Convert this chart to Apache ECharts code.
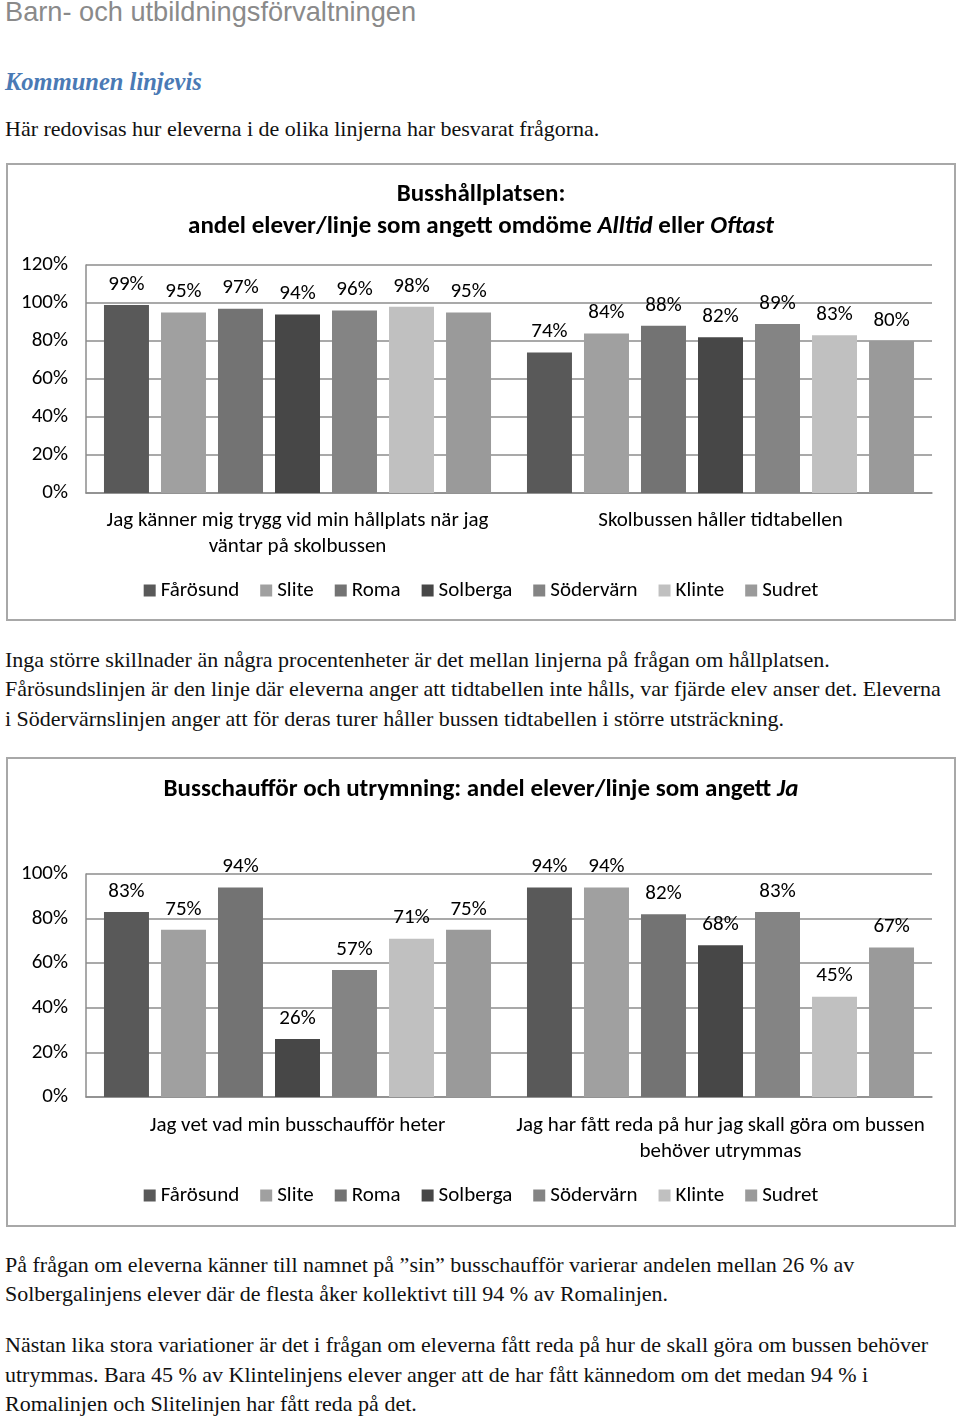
<!DOCTYPE html>
<html>
<head>
<meta charset="utf-8">
<script src="https://cdn.jsdelivr.net/npm/echarts@6/dist/echarts.min.js"></script>
<style>
  html, body { margin: 0; padding: 0; background: #fff; }
  body { width: 960px; height: 1421px; position: relative; overflow: hidden; }
  .t { position: absolute; left: 5px; white-space: nowrap; line-height: 30px; }
  .serif { font-family: 'Liberation Serif', 'DejaVu Serif', serif; font-size: 22px; color: #111; }
  .box { position: absolute; left: 6px; width: 950px; box-sizing: border-box; border: 2px solid #a8a8a8; background: #fff; }
  .box > div { width: 100%; height: 100%; }
</style>
</head>
<body>
<div class="t" style="top:-3px;font-family:'Liberation Sans',Arial,sans-serif;font-size:27.2px;color:#8a8a8a;">Barn- och utbildningsförvaltningen</div>
<div class="t" style="top:67px;font-family:'Liberation Serif',serif;font-size:24.5px;font-weight:bold;font-style:italic;color:#4a7ab5;">Kommunen linjevis</div>
<div class="t serif" style="top:114px;">Här redovisas hur eleverna i de olika linjerna har besvarat frågorna.</div>

<div class="box" style="top:163px;height:458px;"><div id="c1"></div></div>

<div class="t serif" style="top:645px;">Inga större skillnader än några procentenheter är det mellan linjerna på frågan om hållplatsen.</div>
<div class="t serif" style="top:674px;">Fårösundslinjen är den linje där eleverna anger att tidtabellen inte hålls, var fjärde elev anser det. Eleverna</div>
<div class="t serif" style="top:704px;">i Södervärnslinjen anger att för deras turer håller bussen tidtabellen i större utsträckning.</div>

<div class="box" style="top:757px;height:470px;"><div id="c2"></div></div>

<div class="t serif" style="top:1250px;">På frågan om eleverna känner till namnet på ”sin” busschaufför varierar andelen mellan 26 % av</div>
<div class="t serif" style="top:1279px;">Solbergalinjens elever där de flesta åker kollektivt till 94 % av Romalinjen.</div>
<div class="t serif" style="top:1330px;">Nästan lika stora variationer är det i frågan om eleverna fått reda på hur de skall göra om bussen behöver</div>
<div class="t serif" style="top:1360px;">utrymmas. Bara 45 % av Klintelinjens elever anger att de har fått kännedom om det medan 94 % i</div>
<div class="t serif" style="top:1389px;">Romalinjen och Slitelinjen har fått reda på det.</div>

<script>
// ---- Data ----
const lines = ['Fårösund', 'Slite', 'Roma', 'Solberga', 'Södervärn', 'Klinte', 'Sudret'];

const categories1 = ['Jag känner mig trygg vid min hållplats när jag\nväntar på skolbussen', 'Skolbussen håller tidtabellen'];
const farosund1 = [99, 74];
const slite1    = [95, 84];
const roma1     = [97, 88];
const solberga1 = [94, 82];
const sodervarn1= [96, 89];
const klinte1   = [98, 83];
const sudret1   = [95, 80];

const categories2 = ['Jag vet vad min busschaufför heter', 'Jag har fått reda på hur jag skall göra om bussen\nbehöver utrymmas'];
const farosund2 = [83, 94];
const slite2    = [75, 94];
const roma2     = [94, 82];
const solberga2 = [26, 68];
const sodervarn2= [57, 83];
const klinte2   = [71, 45];
const sudret2   = [75, 67];

const yTicks1 = { min: 0, max: 120, interval: 20 };
const yTicks2 = { min: 0, max: 100, interval: 20 };

// ---- Styles ----
const palette = ['#595959', '#a0a0a0', '#737373', '#474747', '#848484', '#c0c0c0', '#9a9a9a'];
const FONT = "Carlito, 'Liberation Sans', sans-serif";
const FS = 21;

function build(el, titleText, cats, seriesVals, ticks, grid, titleTop, legendTop, catMargin) {
  const chart = echarts.init(document.getElementById(el), null, { renderer: 'canvas' });
  chart.setOption({
    animation: false,
    color: palette,
    textStyle: { fontFamily: FONT, color: '#000' },
    title: {
      text: titleText,
      left: 'center',
      top: titleTop,
      textStyle: {
        fontFamily: FONT, fontSize: 25, fontWeight: 'bold', color: '#000', lineHeight: 32,
        rich: { i: { fontFamily: FONT, fontSize: 25, fontWeight: 'bold', fontStyle: 'italic', color: '#000', lineHeight: 32 } }
      }
    },
    legend: {
      top: legendTop,
      left: 'center',
      itemWidth: 12, itemHeight: 12, itemGap: 21,
      icon: 'rect',
      textStyle: { fontFamily: FONT, fontSize: FS, color: '#000' },
      data: lines
    },
    grid: grid,
    xAxis: {
      type: 'category',
      data: cats,
      axisTick: { show: false },
      axisLine: { lineStyle: { color: '#8c8c8c', width: 1.5 } },
      axisLabel: { fontFamily: FONT, fontSize: FS, color: '#000', margin: catMargin, lineHeight: 26, interval: 0 }
    },
    yAxis: {
      type: 'value',
      min: ticks.min, max: ticks.max, interval: ticks.interval,
      axisLine: { show: true, lineStyle: { color: '#8c8c8c', width: 1.5 } },
      axisTick: { show: false },
      splitLine: { lineStyle: { color: '#8c8c8c', width: 1.5 } },
      axisLabel: { formatter: '{value}%', fontFamily: FONT, fontSize: FS, color: '#000', margin: 18 }
    },
    series: lines.map((name, i) => ({
      name: name,
      type: 'bar',
      data: seriesVals[i],
      barGap: '26.7%',
      barCategoryGap: '8.5%',
      label: { show: true, position: 'top', distance: 10, formatter: '{c}%', fontFamily: FONT, fontSize: FS, color: '#000' }
    }))
  });
}

build('c1',
  'Busshållplatsen:\nandel elever/linje som angett omdöme {i|Alltid} eller {i|Oftast}',
  categories1,
  [farosund1, slite1, roma1, solberga1, sodervarn1, klinte1, sudret1],
  yTicks1,
  { left: 78, right: 22, top: 100, height: 228 },
  9, 410, 15);

build('c2',
  'Busschaufför och utrymning: andel elever/linje som angett {i|Ja}',
  categories2,
  [farosund2, slite2, roma2, solberga2, sodervarn2, klinte2, sudret2],
  yTicks2,
  { left: 78, right: 22, top: 115, height: 223 },
  10, 421, 16);
</script>
</body>
</html>
